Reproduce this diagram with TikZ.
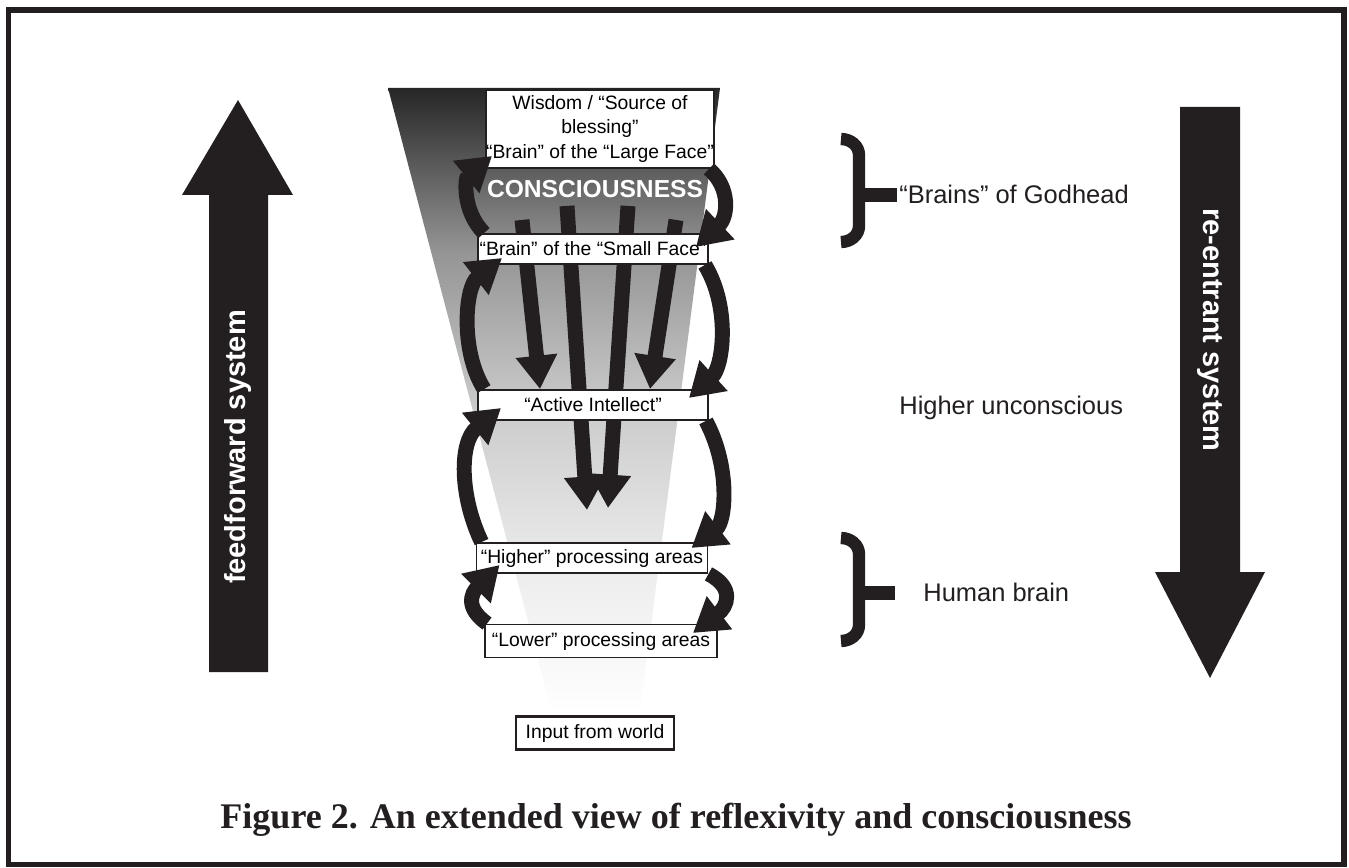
\documentclass[tikz,border=0pt]{standalone}
\usepackage{fontspec}
\setmainfont{Liberation Sans}
\newfontfamily\capfont{Liberation Serif}
\usetikzlibrary{arrows.meta,calc,backgrounds}
\definecolor{ink}{HTML}{231F20}
\pgfdeclareverticalshading{funnel}{100bp}{color(0bp)=(white); color(25bp)=(white); color(36bp)=(black!7); color(49bp)=(black!20); color(62bp)=(black!42); color(68bp)=(black!62); color(75bp)=(black!85); color(100bp)=(black!85)}

\begin{document}
\begin{tikzpicture}[x=0.02cm,y=0.02cm,
   box/.style={draw=ink,line width=1.1pt,fill=white,inner sep=0pt,minimum height=0.6cm,font=\fontsize{11}{14}\selectfont},
   flow/.style={ink,line width=8.5pt,-{Triangle[width=22.5pt,length=19pt]}},
   curl/.style={ink,line width=8.5pt,-{Triangle[width=22.5pt,length=19pt]}},
   side/.style={anchor=west,inner sep=0pt,text=ink,font=\fontsize{14.5}{17}\selectfont},
   bigtext/.style={text=white,font=\bfseries\fontsize{16.5}{19}\selectfont},
   brace/.style={ink,line width=7pt}]
   \useasboundingbox (0,0) rectangle (1349,867);

   % levels in the funnel
   \node[box,minimum width=4.56cm,minimum height=1.56cm,align=center] (wisdom) at (600,738)
      {Wisdom / “Source of\\blessing”\\“Brain” of the “Large Face”};
   \node[text=white,font=\bfseries\fontsize{14}{16}\selectfont] (consc) at (595,678) {CONSCIOUSNESS};
   \node[box,minimum width=4.6cm] (smallface) at (593,618) {“Brain” of the “Small Face”};
   \node[box,minimum width=4.6cm] (intellect) at (593,462) {“Active Intellect”};
   \node[box,minimum width=4.62cm] (higher) at (592,309) {“Higher” processing areas};
   \node[box,minimum width=4.64cm,minimum height=0.66cm] (lower) at (601,226) {“Lower” processing areas};
   \node[box,line width=1.4pt,minimum width=3.16cm,minimum height=0.66cm] (input) at (595,134) {Input from world};

   \coordinate (drop1) at (587,357);
   \coordinate (drop2) at (608,359);

   \begin{scope}[on background layer]
   \fill[white] (0,0) rectangle (1349,867);
   \shade[shading=funnel] (388,779) -- (720,779) -- (640,155) -- (552,155) -- cycle;
   \draw[flow] ($(consc.south)+(-73,-16)$) -- ($(intellect.north)+(-53,0)$);
   \draw[flow] ($(consc.south)+(-28,-2)$) -- (drop1);
   \draw[flow] ($(consc.south)+(33,-2)$) -- (drop2);
   \draw[flow] ($(consc.south)+(81,-16)$) -- ($(intellect.north)+(57,0)$);
   \end{scope}

   % feedforward, left side
   \draw[curl] ($(lower.north west)+(3,0)$) .. controls +(-28,20) and +(-22,-22) .. ($(higher.west)+(24,-7)$);
   \draw[curl] ($(higher.north west)+(6,0)$) .. controls +(-22,46) and +(-42,-34) .. ($(intellect.west)+(24,-3)$);
   \draw[curl] ($(intellect.north west)+(7,0)$) .. controls +(-24,38) and +(-37,-29) .. ($(smallface.west)+(25,-9)$);
   \draw[curl] ($(smallface.north west)+(7,0)$) .. controls +(-22,22) and +(-27,-22) .. ($(wisdom.south west)+(7,13)$);
   % re-entrant, right side
   \draw[curl] ($(wisdom.south east)+(-6,0)$) .. controls +(22,-19) and +(32,30) .. ($(smallface.east)+(-13,2)$);
   \draw[curl] ($(smallface.south east)+(-4,0)$) .. controls +(26,-43) and +(34,31) .. ($(intellect.east)+(-20,7)$);
   \draw[curl] ($(intellect.south east)+(-3,0)$) .. controls +(25,-47) and +(34,26) .. ($(higher.east)+(-17,10)$);
   \draw[curl] (higher.south east) .. controls +(27,-14) and +(34,26) .. ($(lower.east)+(-25,8)$);

   % big arrows
   \fill[ink] (238,767) -- (293,672) -- (268,672) -- (268,195) -- (209,195) -- (209,672) -- (182,672) -- cycle;
   \fill[ink] (1180,760) -- (1240,760) -- (1240,295) -- (1265,295) -- (1210,189) -- (1155,295) -- (1180,295) -- cycle;
   \node[bigtext,rotate=90] (ffwd) at (238,420) {feedforward system};
   \node[bigtext,rotate=-90] (reentr) at (1210,537) {re-entrant system};

   % braces
   \draw[brace] (841,728) to[out=0,in=90] (859,712) -- (859,641) to[out=-90,in=0] (841,625);
   \draw[ink,line width=7.5pt] (859,672) -- (897,672);
   \draw[brace] (841,329) to[out=0,in=90] (859,313) -- (859,242) to[out=-90,in=0] (841,226);
   \draw[ink,line width=7.5pt] (859,274) -- (895,274);
   \node[side] (godhead) at (899,673) {“Brains” of Godhead};
   \node[side] (unconsc) at (899,459) {Higher unconscious};
   \node[side] (human) at (923,275) {Human brain};

   \node[text=ink,font=\capfont\bfseries\fontsize{20.5}{24}\selectfont] (caption) at (676,47)
      {Figure 2. An extended view of reflexivity and consciousness};
   \draw[ink,line width=3.4pt] (8.5,2.5) rectangle (1343.5,857);
\end{tikzpicture}
\end{document}
